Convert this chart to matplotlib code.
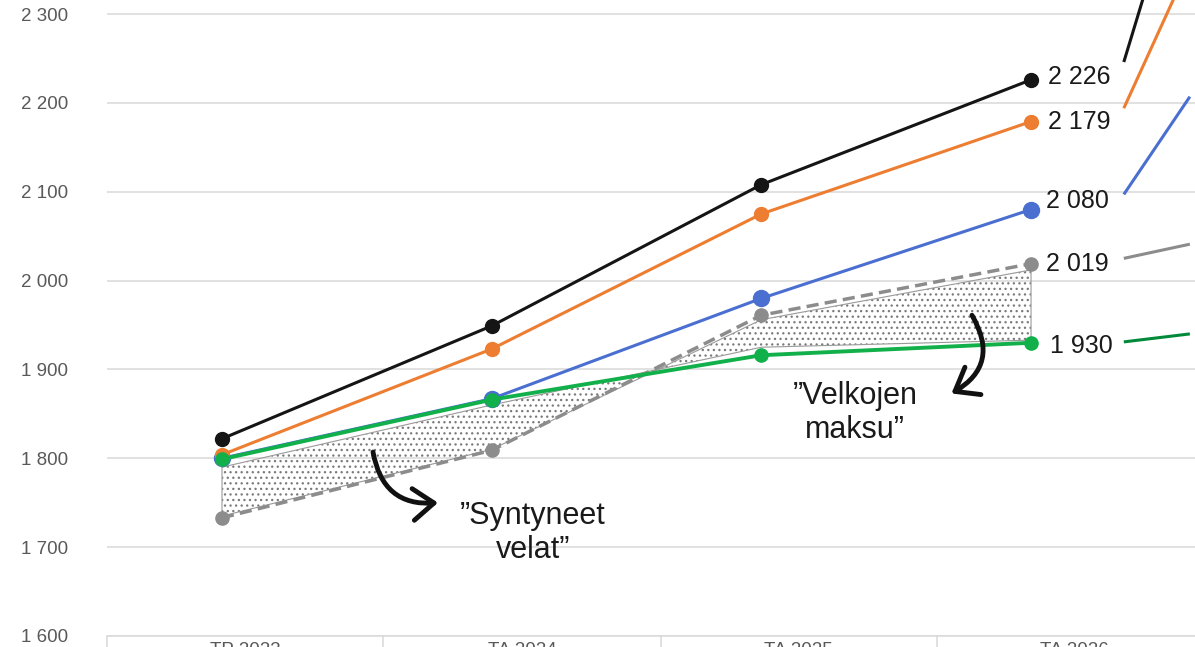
import numpy as np
import matplotlib
matplotlib.use("Agg")
import matplotlib.pyplot as plt
from matplotlib.ticker import FuncFormatter

plt.rcParams['font.family'] = ['Liberation Sans', 'DejaVu Sans']
plt.rcParams['hatch.linewidth'] = 0.9

# === DATA ===
years = ["TP 2023", "TA 2024", "TA 2025", "TA 2026"]
black_vals = [1822, 1949, 2108, 2226]
orange_vals = [1804, 1923, 2075, 2179]
blue_vals = [1800, 1867, 1980, 2080]
gray_vals = [1733, 1809, 1961, 2019]
green_vals = [1799, 1866, 1916, 1930]

# dotted area between the grey and green series
area_a = [1790, 1860, 1925, 1933]
area_b = [1735, 1810, 1956, 2012]

# line stubs coming in from the right-hand panel (start, end)
tail_start = [2246, 2194, 2097, 2025, 1931]
tail_end = [2491, 2357, 2207, 2041, 1940]

y_ticks = [1600, 1700, 1800, 1900, 2000, 2100, 2200, 2300]

# === STYLE ===
C_BLACK = "#151515"
C_ORANGE = "#ed7d31"
C_BLUE = "#4a6fd0"
C_GRAY = "#8c8c8c"
C_GREEN = "#12b04a"
C_GREEN_DARK = "#008a3a"
C_GRID = "#d9d9d9"

fig = plt.figure(figsize=(11.95, 6.47), dpi=100)
ax = fig.add_axes([107 / 1195, 11 / 647, 1 - 107 / 1195, 636 / 647])

x = np.arange(len(years))

# dotted area
ax.fill_between(x, area_a, area_b, interpolate=True, facecolor="none",
                hatch="...", edgecolor="#7a7a7a", linewidth=0, zorder=2)
ax.fill_between(x, area_a, area_b, interpolate=True, facecolor="none",
                edgecolor="#9a9a9a", linewidth=0.8, zorder=2)

# series (order = drawing order)
ax.plot(x, gray_vals, color=C_GRAY, lw=2.5, dashes=(3.5, 1.8), marker="o",
        ms=9.5, zorder=3)
ax.plot(x, blue_vals, color=C_BLUE, lw=2.2, marker="o", ms=11.5, zorder=4)
ax.plot(x, orange_vals, color=C_ORANGE, lw=2.2, marker="o", ms=10, zorder=5)
ax.plot(x, black_vals, color=C_BLACK, lw=2.2, marker="o", ms=10, zorder=6)
ax.plot(x, green_vals, color=C_GREEN, lw=2.8, marker="o", ms=9.5, zorder=7)

# value labels at the last point
last_vals = [black_vals[-1], orange_vals[-1], blue_vals[-1], gray_vals[-1], green_vals[-1]]
label_dy = [2, 0, 6, 0, -2]
label_dx = [12, 12, 11, 11, 14]
for v, dx, dy in zip(last_vals, label_dx, label_dy):
    ax.annotate(f"{v:,}".replace(",", " "), xy=(x[-1], v), xytext=(dx, dy),
                textcoords="offset points", va="center", ha="left",
                fontsize=18, color="#1a1a1a", zorder=8)

# stubs on the right
tail_x = [3.344, 3.589]
tail_colors = [C_BLACK, C_ORANGE, C_BLUE, C_GRAY, C_GREEN_DARK]
for y0, y1, c in zip(tail_start, tail_end, tail_colors):
    ax.plot(tail_x, [y0, y1], color=c, lw=2.2, solid_capstyle="butt", zorder=6)

# annotations
ax.text(1.153, 1716, "\u201dSyntyneet\nvelat\u201d", ha="center", va="center",
        fontsize=22, linespacing=1.15, color="#1a1a1a")
ax.text(2.347, 1851, "\u201dVelkojen\nmaksu\u201d", ha="center", va="center",
        fontsize=22, linespacing=1.15, color="#1a1a1a")

arrow_kw = dict(arrowstyle="->,head_length=0.5,head_width=0.38", lw=3.5,
                color="#111111", shrinkA=0, shrinkB=0, mutation_scale=30,
                capstyle="round", joinstyle="round")
ax.annotate("", xy=(0.801, 1750), xytext=(0.560, 1807),
            arrowprops=dict(connectionstyle="arc3,rad=0.45", **arrow_kw), zorder=9)
ax.annotate("", xy=(2.705, 1873), xytext=(2.781, 1961),
            arrowprops=dict(connectionstyle="arc3,rad=-0.5", **arrow_kw), zorder=9)

# axes styling
ax.set_yticks(y_ticks)
ax.yaxis.set_major_formatter(FuncFormatter(lambda v, p: f"{int(v):,}".replace(",", " ")))
ax.tick_params(axis="y", length=0, pad=28, labelsize=13.5, labelcolor="#595959")
ax.grid(axis="y", color=C_GRID, lw=1.1)
ax.set_axisbelow(True)

bounds = [-0.4264, 0.597, 1.628, 2.651, 3.678]
centers = [0.085, 1.112, 2.139, 3.159]
ax.set_xticks(bounds)
ax.set_xticklabels([])
ax.set_xticks(centers, minor=True)
ax.set_xticklabels(years, minor=True)
ax.tick_params(axis="x", which="major", length=14, width=1.1, color=C_GRID)
ax.tick_params(axis="x", which="minor", length=0, pad=4.5, labelsize=13.5,
               labelcolor="#595959")

# limits after the ticks so they are not widened
ax.set_xlim(-0.4264, 3.608)
ax.set_ylim(1600, 2315.8)

for s in ["left", "top", "right"]:
    ax.spines[s].set_visible(False)
ax.spines["bottom"].set_color(C_GRID)
ax.spines["bottom"].set_linewidth(1.1)

fig.savefig("out.png", dpi=100)
